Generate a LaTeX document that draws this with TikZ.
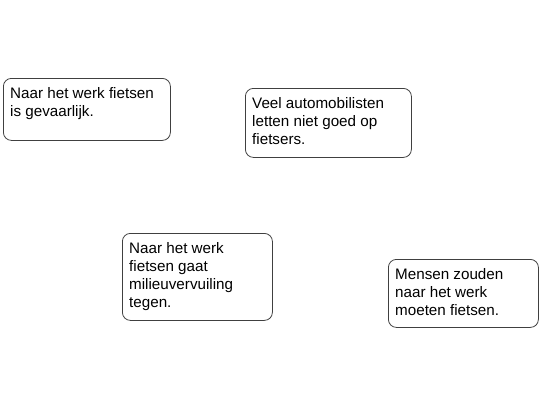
\documentclass[tikz,border=0pt]{standalone}
\usepackage{fontspec}
\setmainfont{Liberation Sans}
\usepackage{tikz}
\usetikzlibrary{positioning}
\tikzset{
    kader/.style={draw=black!75,line width=0.8pt,rounded corners=8pt,anchor=north west,inner sep=0pt},
    tekst/.style={anchor=north west,align=left,inner sep=0pt,font=\fontsize{15.2}{18}\selectfont}
}

\begin{document}
\begin{tikzpicture}[x=1pt,y=-1pt]
    \useasboundingbox (0,0) rectangle (540,405);
    \node[kader,minimum width=167pt,minimum height=62pt] (k1) at (3,78) {};
    \node[kader,minimum width=166pt,minimum height=69pt] (k2) at (245,88) {};
    \node[kader,minimum width=150pt,minimum height=87pt] (k3) at (122,233) {};
    \node[kader,minimum width=150pt,minimum height=68pt] (k4) at (388,259) {};
    \node[tekst] (t1) at ([xshift=7pt,yshift=-9pt]k1.north west) {Naar het werk fietsen\\is gevaarlijk.};
    \node[tekst] (t2) at ([xshift=7pt,yshift=-9pt]k2.north west) {Veel automobilisten\\letten niet goed op\\fietsers.};
    \node[tekst] (t3) at ([xshift=7pt,yshift=-9pt]k3.north west) {Naar het werk\\fietsen gaat\\milieuvervuiling\\tegen.};
    \node[tekst] (t4) at ([xshift=7pt,yshift=-9pt]k4.north west) {Mensen zouden\\naar het werk\\moeten fietsen.};
\end{tikzpicture}
\end{document}
